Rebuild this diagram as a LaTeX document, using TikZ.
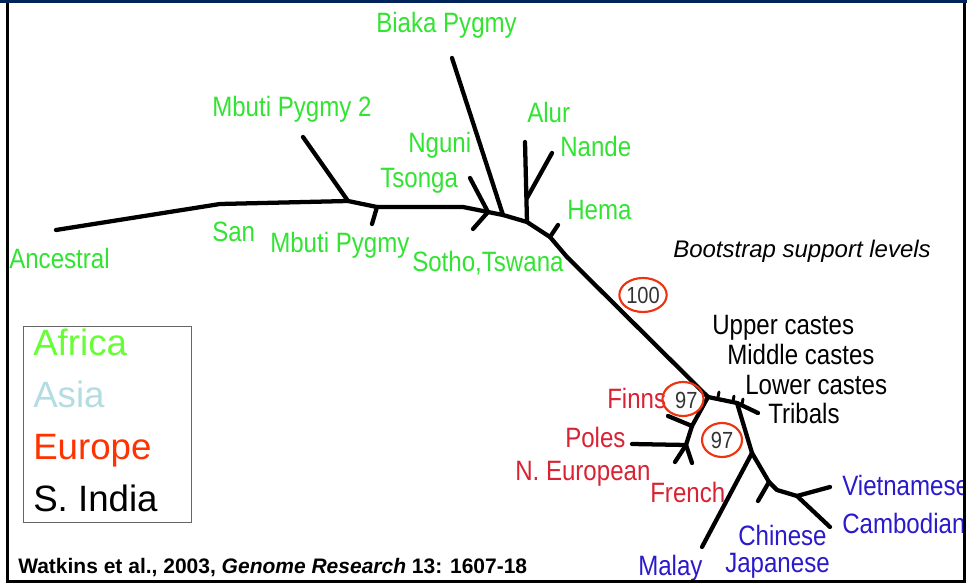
\documentclass[tikz,border=0pt]{standalone}
\usepackage{fontspec}
\setmainfont{Liberation Sans}
\newfontfamily\narrowsans[FakeStretch=0.86]{Liberation Sans}
\usetikzlibrary{shapes.geometric}

\definecolor{navy}{HTML}{00235A}
\definecolor{afr}{RGB}{50,228,50}
\definecolor{afrkey}{HTML}{66FF33}
\definecolor{asiakey}{HTML}{B3DDE3}
\definecolor{eurkey}{HTML}{FF3300}
\definecolor{eur}{HTML}{D92233}
\definecolor{asia}{HTML}{2A1ACC}
\definecolor{ring}{HTML}{EE3311}
\definecolor{numgray}{HTML}{333333}

\tikzset{
  branch/.style={line width=3.2pt, line cap=round, line join=round},
  taxon/.style={inner sep=0pt, anchor=base west, font=\narrowsans\fontsize{21}{21}\selectfont},
  africa/.style={taxon, text=afr},
  europe/.style={taxon, text=eur},
  asian/.style={taxon, text=asia},
  india/.style={taxon, text=black},
  keytext/.style={inner sep=0pt, anchor=base west, font=\fontsize{27.5}{27.5}\selectfont},
  support/.style={ellipse, draw=ring, line width=1.6pt, minimum width=30pt, minimum height=25.5pt,
    inner sep=0pt, text=numgray, font=\narrowsans\fontsize{17.5}{17.5}\selectfont}
}

\begin{document}
\begin{tikzpicture}[x=0.75pt, y=-0.75pt]
  % canvas
  \useasboundingbox (0,0) rectangle (967,584);
  \fill[white] (0,0) rectangle (967,584);

  % ---------- tree nodes ----------
  % backbone
  \coordinate (anc) at (56,230);
  \coordinate (a1) at (220,204);
  \coordinate (a2) at (348,201);
  \coordinate (a3) at (377,207);
  \coordinate (a4) at (463,207);
  \coordinate (a5) at (488,212);
  \coordinate (a6) at (503,215);
  \coordinate (a7) at (527,222);
  \coordinate (a8) at (550,237);
  \coordinate (a9) at (567,257);
  \coordinate (j1) at (708,397);
  % African tips
  \coordinate (tMbuti2) at (303,137);
  \coordinate (tMbuti) at (372,224);
  \coordinate (tTsonga) at (470,178);
  \coordinate (tSotho) at (473,229);
  \coordinate (tBiaka) at (452,58);
  \coordinate (tAlur) at (525,142);
  \coordinate (nNande) at (527,198);
  \coordinate (tNande) at (552,153);
  \coordinate (tHema) at (558,225);
  % European clade
  \coordinate (eFin) at (692,426);
  \coordinate (ePol) at (686,445);
  \coordinate (tFinns) at (668,416);
  \coordinate (tPoles) at (632,444);
  \coordinate (tNEur) at (675,462);
  \coordinate (tFrench) at (692,463);
  % South Indian clade
  \coordinate (i1) at (718,397);
  \coordinate (i2) at (733,401);
  \coordinate (i3) at (742,404);
  \coordinate (j2) at (737,403);
  \coordinate (tTribals) at (758,413);
  % Asian clade
  \coordinate (m1) at (752,453);
  \coordinate (c2) at (769,482);
  \coordinate (c3) at (777,490);
  \coordinate (v1) at (797,496);
  \coordinate (tMalay) at (702,547);
  \coordinate (tChinese) at (758,501);
  \coordinate (tViet) at (830,487);
  \coordinate (tCamb) at (830,527);

  % ---------- branches ----------
  \draw[branch] (anc) -- (a1) -- (a2) -- (a3) -- (a4) -- (a5) -- (a6) -- (a7) -- (a8) -- (a9) -- (j1);
  \draw[branch] (a2) -- (tMbuti2);
  \draw[branch] (a3) -- (tMbuti);
  \draw[branch] (a5) -- (tTsonga);
  \draw[branch] (a5) -- (tSotho);
  \draw[branch] (a6) -- (tBiaka);
  \draw[branch] (a7) -- (tAlur);
  \draw[branch] (nNande) -- (tNande);
  \draw[branch] (a8) -- (tHema);

  \draw[branch] (j1) -- (eFin) -- (ePol);
  \draw[branch] (eFin) -- (tFinns);
  \draw[branch] (ePol) -- (tPoles);
  \draw[branch] (ePol) -- (tNEur);
  \draw[branch] (ePol) -- (tFrench);

  \draw[branch] (j1) -- (j2) -- (tTribals);
  \draw[branch, line width=2.2pt] (i1) -- ++(1,-5);
  \draw[branch, line width=2.2pt] (i2) -- ++(1,-5);
  \draw[branch, line width=2.2pt] (i3) -- ++(1,-5);

  \draw[branch] (j2) -- (m1) -- (c2) -- (c3) -- (v1) -- (tCamb);
  \draw[branch] (m1) -- (tMalay);
  \draw[branch] (c2) -- (tChinese);
  \draw[branch] (v1) -- (tViet);

  % ---------- labels ----------
  \node[africa] (lBiaka) at (376,33) {Biaka Pygmy};
  \node[africa] (lMbuti2) at (212,117) {Mbuti Pygmy 2};
  \node[africa] (lNguni) at (408,153) {Nguni};
  \node[africa] (lTsonga) at (380,188) {Tsonga};
  \node[africa] (lSan) at (212,242) {San};
  \node[africa] (lMbuti) at (270,253) {Mbuti Pygmy};
  \node[africa] (lAnc) at (9,269) {Ancestral};
  \node[africa] (lSotho) at (412,272) {Sotho,Tswana};
  \node[africa] (lAlur) at (527,123) {Alur};
  \node[africa] (lNande) at (560,157) {Nande};
  \node[africa] (lHema) at (567,220) {Hema};

  \node[india] (lUpper) at (712,335) {Upper castes};
  \node[india] (lMiddle) at (727,365) {Middle castes};
  \node[india] (lLower) at (745,395) {Lower castes};
  \node[india] (lTribals) at (768,423) {Tribals};

  \node[europe] (lFinns) at (607,408) {Finns};
  \node[europe] (lPoles) at (565,447) {Poles};
  \node[europe] (lNEur) at (515,480) {N. European};
  \node[europe] (lFrench) at (650,502) {French};

  \node[asian] (lViet) at (842,495) {Vietnamese};
  \node[asian] (lCamb) at (842,533) {Cambodian};
  \node[asian] (lChinese) at (738,545) {Chinese};
  \node[asian] (lJapanese) at (725,572) {Japanese};
  \node[asian] (lMalay) at (638,575) {Malay};

  % bootstrap values
  \node[support] (b100) at (643,295) {100};
  \node[support, text depth=0pt] (b97a) at (683,399) {\raisebox{-2.5pt}{\hspace*{5pt}97}};
  \node[support] (b97b) at (722,440) {97};
  \node[inner sep=0pt, anchor=base west, font=\itshape\fontsize{18}{18}\selectfont] (lBoot) at (673,258) {Bootstrap support levels};

  % colour key
  \draw[gray!80!black, line width=0.75pt] (23,327) rectangle (191,522);
  \node[keytext, text=afrkey] (kAfrica) at (33,356) {Africa};
  \node[keytext, text=asiakey] (kAsia) at (33,407) {Asia};
  \node[keytext, text=eurkey] (kEurope) at (33,459) {Europe};
  \node[keytext, text=black] (kIndia) at (33,511) {S. India};

  % reference
  \node[inner sep=0pt, anchor=base west, font=\bfseries\fontsize{15.75}{15.75}\selectfont] (cite) at (18,573)
    {Watkins et al., 2003, \textit{Genome Research} 13: 1607-18};

  % ---------- slide frame ----------
  \fill[white] (966,0) rectangle (967,584);
  \fill[navy] (0,0) rectangle (967,3.5);
  \draw[black, line width=2.2pt] (7.5,3.5) -- (7.5,582);
  \draw[black, line width=2.2pt] (964.5,3.5) -- (964.5,582);
  \draw[black, line width=2.2pt] (6,581.5) -- (966,581.5);
\end{tikzpicture}
\end{document}
